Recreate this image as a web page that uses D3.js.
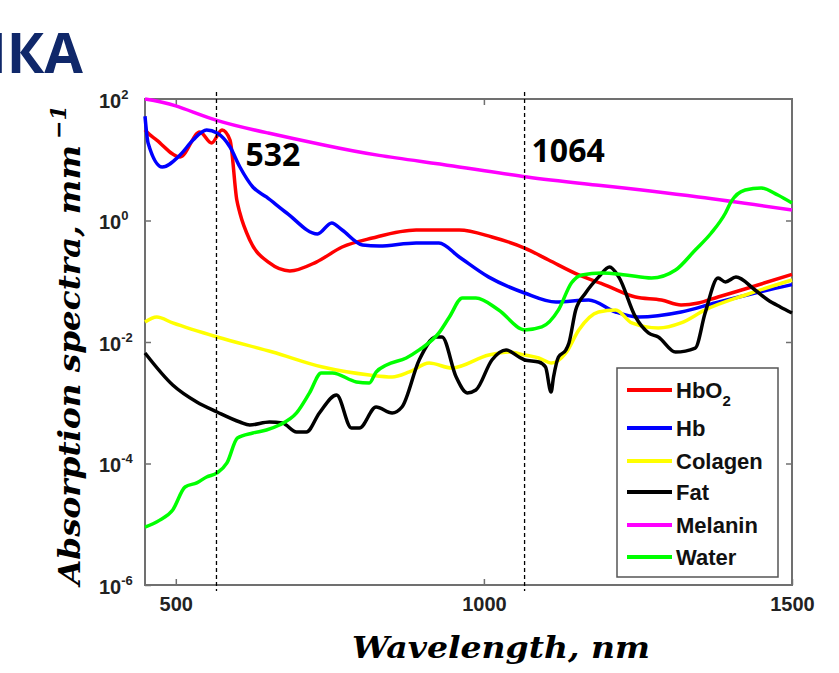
<!DOCTYPE html>
<html>
<head>
<meta charset="utf-8">
<script src="https://cdn.jsdelivr.net/npm/d3@7"></script>
<style>
  body { margin: 0; background: #fff; }
  svg { display: block; }
</style>
</head>
<body>
<svg id="chart"></svg>
<script>
// Chart dimensions
const width = 839;
const height = 673;
const plot = {left: 145, right: 792, top: 99, bottom: 585};

// Data: [wavelength nm, absorption mm^-1]
const hbo2 = [[450,31],[453,28.6],[469,21.1],[507,11.1],[539,28.6],[558,18.9],[575,30.9],[588,21.1],[599,2.17],[604,1.33],[620,0.478],[652,0.2],[685,0.148],[728,0.207],[770,0.366],[819,0.515],[890,0.698],[960,0.698],[1013,0.535],[1066,0.352],[1105,0.224],[1154,0.127],[1197,0.0867],[1246,0.0551],[1288,0.0491],[1320,0.0407],[1348,0.0438],[1380,0.0551],[1429,0.0775],[1500,0.13]];
const hb = [[450,52],[455,18.9],[478,7.6],[507,12.0],[528,21.1],[550,30.9],[567,27.5],[588,16.2],[604,7.6],[625,3.56],[647,2.44],[680,1.33],[730,0.6],[753,0.91],[770,0.698],[803,0.396],[830,0.38],[890,0.427],[927,0.427],[960,0.251],[1008,0.117],[1066,0.0641],[1117,0.0455],[1170,0.0491],[1214,0.0312],[1251,0.0258],[1320,0.0312],[1375,0.0438],[1440,0.0641],[1500,0.088]];
const colagen = [[450,0.0213],[469,0.0258],[495,0.0206],[567,0.0121],[657,0.00684],[738,0.00387],[814,0.00286],[851,0.00265],[879,0.00321],[911,0.00451],[948,0.00373],[1008,0.00611],[1041,0.00684],[1066,0.00611],[1089,0.00546],[1110,0.00451],[1133,0.00659],[1154,0.0158],[1186,0.0312],[1214,0.0337],[1240,0.0206],[1283,0.017],[1320,0.0206],[1359,0.0337],[1429,0.0617],[1500,0.105]];
const fat = [[450,0.00659],[495,0.00196],[534,0.00103],[567,0.000705],[604,0.000482],[620,0.00043],[652,0.000482],[673,0.000464],[696,0.00033],[712,0.00033],[733,0.000678],[761,0.00134],[785,0.000384],[798,0.000384],[825,0.000851],[851,0.000678],[867,0.000851],[895,0.00506],[922,0.0121],[932,0.0121],[955,0.00265],[973,0.00145],[987,0.00162],[1013,0.00506],[1036,0.00738],[1057,0.00566],[1066,0.00506],[1089,0.00469],[1100,0.00387],[1109,0.0015],[1113,0.00265],[1121,0.00566],[1133,0.00738],[1138,0.00964],[1149,0.0337],[1165,0.0641],[1186,0.117],[1204,0.172],[1219,0.117],[1246,0.0258],[1267,0.0141],[1283,0.0121],[1311,0.00684],[1343,0.00796],[1359,0.03],[1380,0.113],[1392,0.0972],[1409,0.117],[1440,0.0718],[1461,0.0491],[1481,0.0377],[1500,0.03]];
const melanin = [[450,100],[500,77],[568,44],[650,27.5],[740,17.5],[830,11.8],[950,7.9],[1070,5.2],[1186,3.8],[1348,2.44],[1500,1.49]];
const water = [[450,9.0e-6],[474,1.17e-5],[495,1.72e-5],[515,4.1e-5],[534,4.8e-5],[550,6.0e-5],[567,7.0e-5],[583,1.02e-4],[600,2.63e-4],[625,3.18e-4],[647,3.56e-4],[668,4.3e-4],[696,6.8e-4],[717,1.45e-3],[736,3.09e-3],[754,3.09e-3],[793,2.2e-3],[814,2.11e-3],[825,3.2e-3],[842,4.18e-3],[874,5.46e-3],[895,7.4e-3],[927,0.0141],[944,0.0258],[965,0.053],[987,0.053],[1024,0.0337],[1066,0.0158],[1094,0.0177],[1121,0.0337],[1142,0.0935],[1159,0.127],[1191,0.137],[1230,0.127],[1272,0.113],[1311,0.153],[1343,0.327],[1369,0.622],[1392,1.33],[1401,2.02],[1424,3.18],[1450,3.43],[1477,2.63],[1500,1.94]];

const seriesNames = ["HbO2", "Hb", "Colagen", "Fat", "Melanin", "Water"];
const seriesData = [hbo2, hb, colagen, fat, melanin, water];
const seriesColors = ["#ff0000", "#0000ff", "#ffff00", "#000000", "#ff00ff", "#00ff00"];

const xTicks = [500, 1000, 1500];
const yTicks = [1e-6, 1e-4, 1e-2, 1e0, 1e2];
const yExponents = ["-6", "-4", "-2", "0", "2"];
const laserLines = [566, 1066];
const laserLabels = ["532", "1064"];

// Scales
const x = d3.scaleLinear().domain([450, 1500]).range([plot.left, plot.right]);
const y = d3.scaleLog().domain([1e-6, 1e2]).range([plot.bottom, plot.top]);

const svg = d3.select("#chart")
	.attr("width", width)
	.attr("height", height);

svg.append("rect").attr("width", width).attr("height", height).attr("fill", "#fff");

// Cropped slide title
svg.append("text")
	.attr("x", 83).attr("y", 73)
	.attr("text-anchor", "end")
	.style("font-family", "'Open Sans', sans-serif")
	.style("font-weight", "bold")
	.style("font-size", "56px")
	.style("fill", "#10286a")
	.text("ИКА");

// Axes (inward ticks)
const axisColor = "#707070";
const tickFont = "'Liberation Sans', Arial, sans-serif";

const gx = svg.append("g")
	.attr("transform", `translate(0,${plot.bottom})`)
	.call(d3.axisBottom(x).tickValues(xTicks).tickFormat(d3.format("d"))
		.tickSizeInner(-6).tickSizeOuter(0).tickPadding(12));
gx.selectAll("text").attr("dy", "0.71em");

svg.append("g")
	.attr("transform", `translate(0,${plot.top})`)
	.call(d3.axisTop(x).tickValues(xTicks.slice(0, 2)).tickSizeInner(-6).tickSizeOuter(0).tickFormat(""));

const gy = svg.append("g")
	.attr("transform", `translate(${plot.left},0)`)
	.call(d3.axisLeft(y).tickValues(yTicks).tickSizeInner(-6).tickSizeOuter(0));

svg.append("g")
	.attr("transform", `translate(${plot.right},0)`)
	.call(d3.axisRight(y).tickValues(yTicks.slice(1, 4)).tickSizeInner(-6).tickSizeOuter(0).tickFormat(""));

// y tick labels as 10 with superscript exponent
gy.selectAll(".tick text").each(function(d, i) {
	const t = d3.select(this);
	t.text(null)
		.attr("x", -46).attr("dy", null).attr("y", 8)
		.attr("text-anchor", "start");
	t.append("tspan").text("10");
	t.append("tspan").attr("dy", -9).style("font-size", "13px").text(yExponents[i]);
});

svg.selectAll(".tick line").attr("stroke", axisColor).attr("stroke-width", 1.5);
svg.selectAll(".domain").remove();
svg.selectAll(".tick text")
	.style("font-family", tickFont)
	.style("font-size", "20px")
	.style("font-weight", "bold")
	.style("fill", "#222");

// Frame
svg.append("rect")
	.attr("x", plot.left).attr("y", plot.top)
	.attr("width", plot.right - plot.left).attr("height", plot.bottom - plot.top)
	.attr("fill", "none").attr("stroke", axisColor).attr("stroke-width", 2);

// Curves
const line = d3.line()
	.x(d => x(d[0]))
	.y(d => y(d[1]))
	.curve(d3.curveMonotoneX);
const smoothLine = d3.line()
	.x(d => x(d[0]))
	.y(d => y(d[1]))
	.curve(d3.curveNatural);

svg.append("g")
	.selectAll("path")
	.data(seriesData)
	.join("path")
	.attr("d", d => d === melanin ? smoothLine(d) : line(d))
	.attr("fill", "none")
	.attr("stroke", (d, i) => seriesColors[i])
	.attr("stroke-width", 3.5)
	.attr("stroke-linejoin", "round");

// Laser wavelength markers
svg.append("g")
	.selectAll("line")
	.data(laserLines)
	.join("line")
	.attr("x1", d => x(d)).attr("x2", d => x(d))
	.attr("y1", plot.top - 7).attr("y2", plot.bottom + 6)
	.attr("stroke", "#000")
	.attr("stroke-width", 1.3)
	.attr("stroke-dasharray", "4,3");

svg.append("g")
	.selectAll("text")
	.data(laserLabels)
	.join("text")
	.attr("x", (d, i) => x(laserLines[i]) + (i === 0 ? 29 : 7))
	.attr("y", (d, i) => i === 0 ? 166 : 162)
	.style("font-family", "'Open Sans', sans-serif")
	.style("font-weight", "bold")
	.style("font-size", "32px")
	.text(d => d);

// Legend
const legend = svg.append("g").attr("transform", "translate(617,368)");
legend.append("rect")
	.attr("width", 161).attr("height", 209)
	.attr("fill", "#fff").attr("stroke", "#555").attr("stroke-width", 1.5);

const rowY = [22, 60, 93, 124, 157, 189];
const rows = legend.selectAll(".row")
	.data(seriesNames)
	.join("g")
	.attr("class", "row")
	.attr("transform", (d, i) => `translate(0,${rowY[i]})`);

rows.append("line")
	.attr("x1", 10).attr("x2", 55)
	.attr("stroke", (d, i) => seriesColors[i])
	.attr("stroke-width", 4);

rows.append("text")
	.attr("x", 59).attr("y", 8)
	.style("font-family", tickFont)
	.style("font-size", "22px")
	.style("font-weight", "bold")
	.style("fill", "#111")
	.each(function(d) {
		const t = d3.select(this);
		if (d === "HbO2") {
			t.append("tspan").text("HbO");
			t.append("tspan").attr("dy", 8).style("font-size", "15px").text("2");
		} else {
			t.text(d);
		}
	});

// Axis titles
const titleFont = "'DejaVu Serif', serif";
svg.append("text")
	.attr("x", 352).attr("y", 658)
	.attr("textLength", 298)
	.attr("lengthAdjust", "spacingAndGlyphs")
	.style("font-family", titleFont)
	.style("font-style", "italic")
	.style("font-weight", "bold")
	.style("font-size", "29px")
	.text("Wavelength, nm");

const yTitle = svg.append("text")
	.attr("transform", "translate(80,585) rotate(-90)")
	.style("font-family", titleFont)
	.style("font-style", "italic")
	.style("font-weight", "bold")
	.style("font-size", "29px");
yTitle.append("tspan").attr("textLength", 440).attr("lengthAdjust", "spacingAndGlyphs").text("Absorption spectra, mm");
yTitle.append("tspan").attr("dx", 6).attr("dy", -14).style("font-size", "22px").text("−1");
</script>
</body>
</html>
